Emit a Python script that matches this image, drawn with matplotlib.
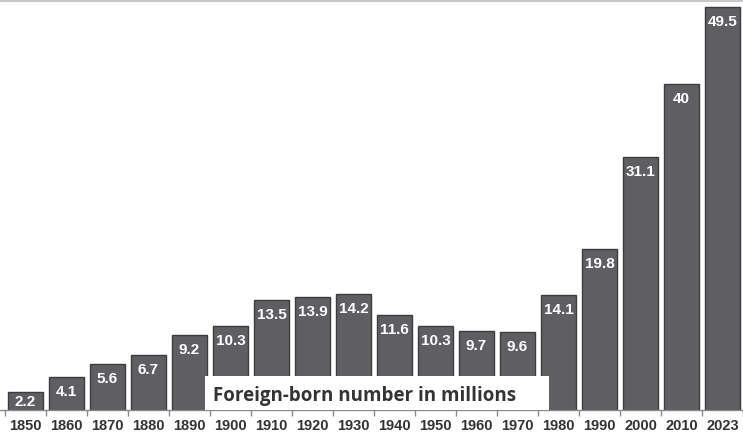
import matplotlib.pyplot as plt
from matplotlib.patches import Rectangle

# Foreign-born population, millions
years = ['1850', '1860', '1870', '1880', '1890', '1900', '1910', '1920', '1930',
         '1940', '1950', '1960', '1970', '1980', '1990', '2000', '2010', '2023']
values = [2.2, 4.1, 5.6, 6.7, 9.2, 10.3, 13.5, 13.9, 14.2,
          11.6, 10.3, 9.7, 9.6, 14.1, 19.8, 31.1, 40, 49.5]
labels = ['2.2', '4.1', '5.6', '6.7', '9.2', '10.3', '13.5', '13.9', '14.2',
          '11.6', '10.3', '9.7', '9.6', '14.1', '19.8', '31.1', '40', '49.5']
caption = 'Foreign-born number in millions'

W, H = 743, 435
fig = plt.figure(figsize=(W / 100, H / 100), dpi=100)
ax = fig.add_axes([0, 24 / H, 1, 409 / H])

bar_color = '#5f5f63'
edge_color = '#3c3c3e'
x = list(range(len(years)))
ax.bar(x, values, width=0.85, color=bar_color, edgecolor=edge_color, linewidth=1.0, zorder=2)

ax.set_xlim(-25.5 / 41, (W - 25.5) / 41)
ax.set_ylim(0, 50.2)

# value labels inside top of each bar
px_per_unit = 409 / 50.2
for i, (v, lab) in enumerate(zip(values, labels)):
    off = min(14, v * px_per_unit / 2)
    ax.annotate(lab, (i, v), xytext=(0, -off * 0.72), textcoords='offset points',
                ha='center', va='center', color='white', fontsize=11,
                fontweight='bold', family='Liberation Sans', zorder=5)

# white caption box sitting on the baseline
ax.add_patch(Rectangle(((205 - 25.5) / 41, 0), 344 / 41, 34 / px_per_unit,
                       facecolor='white', edgecolor='none', zorder=3))
ax.text((213 - 25.5) / 41, 15 / px_per_unit, caption, ha='left', va='center',
        fontsize=13.5, fontweight='bold', family='Open Sans', color='#333333', zorder=4)

# axes styling
for s in ['left', 'right']:
    ax.spines[s].set_visible(False)
ax.spines['top'].set_color('#c8c8c8')
ax.spines['top'].set_linewidth(1.5)
ax.spines['bottom'].set_color('#8a8a8a')
ax.spines['bottom'].set_linewidth(1.0)
ax.set_yticks([])

ax.set_xticks(x)
ax.set_xticklabels(years, fontsize=10.5, fontweight='bold', family='Liberation Sans', color='#333333')
ax.tick_params(axis='x', length=0, pad=6)
ax.set_xticks([i + 0.5 for i in range(-1, len(years))], minor=True)
ax.tick_params(axis='x', which='minor', length=4, color='#8a8a8a', width=1)

fig.savefig('out.png', dpi=100)
